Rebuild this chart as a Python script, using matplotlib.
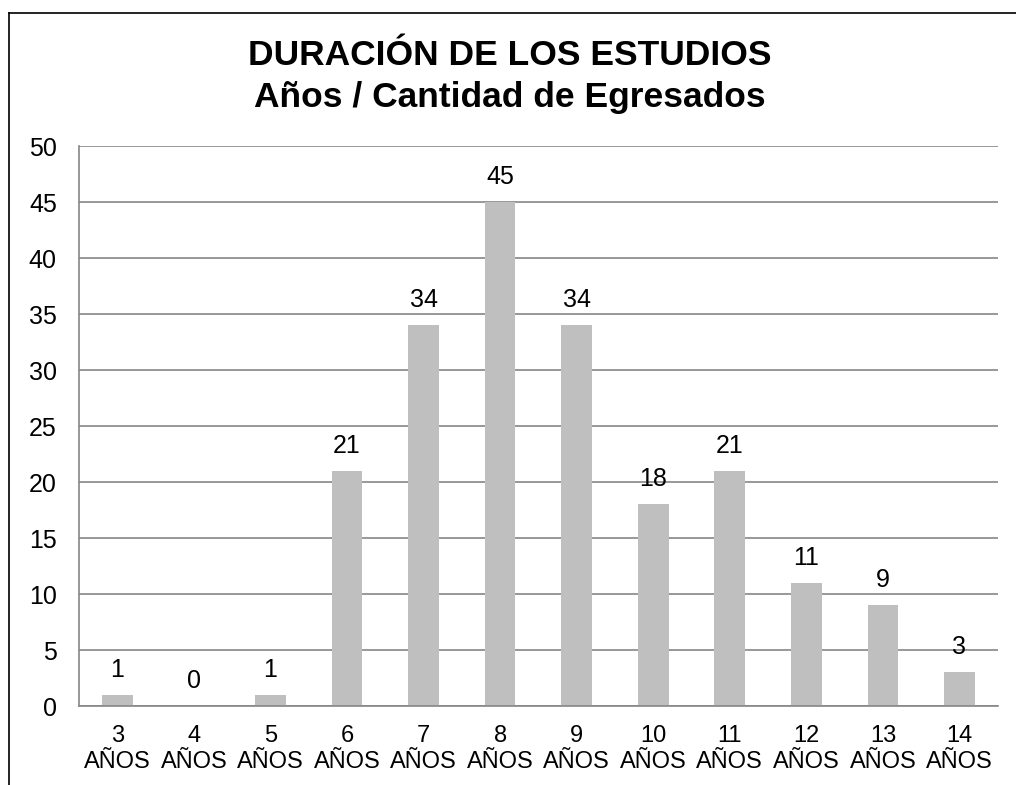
import numpy as np
import matplotlib.pyplot as plt
from matplotlib.lines import Line2D

plt.rcParams['font.family'] = ['Liberation Sans', 'DejaVu Sans']

years = ['3', '4', '5', '6', '7', '8', '9', '10', '11', '12', '13', '14']
graduates = [1, 0, 1, 21, 34, 45, 34, 18, 21, 11, 9, 3]

fig = plt.figure(figsize=(10.16, 7.85), dpi=100)
ax = fig.add_axes([0.0778, 0.1006, 0.9042, 0.7134])

x = np.arange(len(years))
ax.bar(x, graduates, width=0.4, color='#bfbfbf', zorder=2)

for xi, v in zip(x, graduates):
    ax.annotate(str(v), (xi, v), xytext=(0, 18), textcoords='offset points',
                ha='center', va='center', fontsize=18, color='black', zorder=3)

ax.set_xlim(-0.5, len(years) - 0.5)
ax.set_ylim(0, 50)
ax.set_yticks(range(0, 51, 5))
ax.yaxis.grid(True, color='#868686', linewidth=1.2, zorder=0)
ax.set_axisbelow(True)
ax.set_xticks(x)
ax.set_xticklabels([y + '\nAÑOS' for y in years], linespacing=1.2)
ax.tick_params(axis='x', length=0, labelsize=17, pad=14)
ax.tick_params(axis='y', length=0, labelsize=18, pad=16)
for s in ['top', 'right']:
    ax.spines[s].set_visible(False)
for s in ['left', 'bottom']:
    ax.spines[s].set_color('#868686')
    ax.spines[s].set_linewidth(1.2)

fig.text(0.502, 0.9025, 'DURACIÓN DE LOS ESTUDIOS\nAños / Cantidad de Egresados',
         ha='center', va='center', fontsize=25.5, fontweight='bold', linespacing=1.32)

# outer frame lines (top and left)
fig.add_artist(Line2D([9 / 1016, 1], [1 - 13 / 785, 1 - 13 / 785], color='black', linewidth=1.2))
fig.add_artist(Line2D([9 / 1016, 9 / 1016], [0, 1 - 13 / 785], color='black', linewidth=1.2))

fig.savefig('out.png', dpi=100)
